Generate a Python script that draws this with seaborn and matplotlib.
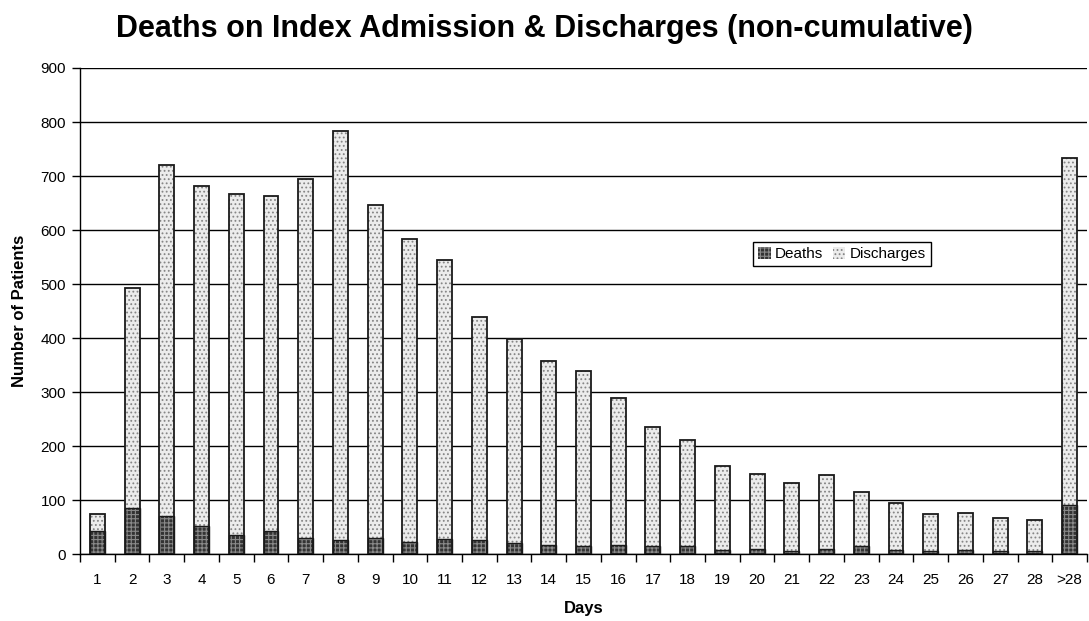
import matplotlib
matplotlib.use("Agg")
import matplotlib.pyplot as plt
import matplotlib.patches as mpatches
import seaborn as sns
import pandas as pd
import numpy as np

days = ["1", "2", "3", "4", "5", "6", "7", "8", "9", "10", "11", "12", "13", "14",
        "15", "16", "17", "18", "19", "20", "21", "22", "23", "24", "25", "26", "27", "28", ">28"]
deaths = [42, 86, 70, 52, 35, 43, 30, 26, 29, 23, 28, 26, 21, 17,
          14, 16, 14, 14, 8, 10, 5, 10, 14, 8, 5, 8, 5, 5, 90]
discharges = [32, 406, 650, 630, 631, 620, 664, 757, 618, 560, 516, 413, 378, 340,
              324, 273, 221, 197, 155, 139, 126, 137, 100, 87, 69, 68, 62, 58, 644]
yticks = [0, 100, 200, 300, 400, 500, 600, 700, 800, 900]

df = pd.DataFrame({"Day": days, "Deaths": deaths, "Discharges": discharges})
df["Total"] = df["Deaths"] + df["Discharges"]

sns.set_theme(style="white")
plt.rcParams["font.family"] = ["Liberation Sans", "DejaVu Sans"]
plt.rcParams["hatch.linewidth"] = 0.8
plt.rcParams["text.color"] = "black"
plt.rcParams["axes.labelcolor"] = "black"
plt.rcParams["xtick.color"] = "black"
plt.rcParams["ytick.color"] = "black"

fig = plt.figure(figsize=(10.89, 6.21), dpi=100)
ax = fig.add_axes([80 / 1089, 1 - 554 / 621, 1007 / 1089, (554 - 68) / 621])

W = 0.43
disc_face, disc_hatch = "#ececec", "#858585"
death_face, death_hatch = "#333333", "#8a8a8a"

sns.barplot(data=df, x="Day", y="Total", order=days, color=disc_face, width=W,
            edgecolor=disc_hatch, linewidth=0, hatch="....", ax=ax, zorder=3)
sns.barplot(data=df, x="Day", y="Deaths", order=days, color=death_face, width=W,
            edgecolor=death_hatch, linewidth=0, hatch="++++", ax=ax, zorder=3)
sns.barplot(data=df, x="Day", y="Total", order=days, color="#1a1a1a", width=W,
            fill=False, linewidth=1.3, ax=ax, zorder=4)
sns.barplot(data=df, x="Day", y="Deaths", order=days, color="#1a1a1a", width=W,
            fill=False, linewidth=1.0, ax=ax, zorder=4)

ax.set_ylim(0, 900)
ax.set_xlim(-0.5, len(days) - 0.5)
ax.set_yticks(yticks)
ax.set_yticklabels([str(v) for v in yticks], fontsize=11, color="black")
ax.yaxis.grid(True, color="black", linewidth=1.0)
ax.set_axisbelow(True)

ax.set_xticks(range(len(days)))
ax.set_xticklabels(days, fontsize=11, color="black")
ax.set_xticks(np.arange(-0.5, len(days), 1.0), minor=True)
ax.tick_params(axis="x", which="major", length=0, pad=14, colors="black")
ax.tick_params(axis="x", which="minor", length=6, width=1, color="black", direction="out", bottom=True)
ax.tick_params(axis="y", which="major", length=6, width=1, color="black", direction="out", left=True, pad=4)

for s in ["top", "right"]:
    ax.spines[s].set_visible(False)
for s in ["left", "bottom"]:
    ax.spines[s].set_color("black")
    ax.spines[s].set_linewidth(1.0)

ax.set_xlabel("Days", fontsize=12, fontweight="bold", labelpad=10, color="black")
ax.set_ylabel("Number of Patients", fontsize=12, fontweight="bold", labelpad=10, color="black")

fig.suptitle("Deaths on Index Admission & Discharges (non-cumulative)",
             fontsize=22, fontweight="bold", y=1 - 29 / 621, va="center", color="black")

handles = [
    mpatches.Patch(facecolor=death_face, edgecolor=death_hatch, hatch="++++", linewidth=0),
    mpatches.Patch(facecolor=disc_face, edgecolor=disc_hatch, hatch="....", linewidth=0),
]
leg = ax.legend(handles, ["Deaths", "Discharges"], ncol=2, loc="center",
                bbox_to_anchor=(842 / 1089, 1 - 254 / 621), bbox_transform=fig.transFigure,
                fontsize=11, frameon=True, fancybox=False, edgecolor="black",
                handlelength=0.8, handleheight=0.8, handletextpad=0.3, columnspacing=0.6,
                borderpad=0.35, framealpha=1)
leg.get_frame().set_linewidth(1.0)
for t in leg.get_texts():
    t.set_color("black")

fig.savefig("out.png", dpi=100)
